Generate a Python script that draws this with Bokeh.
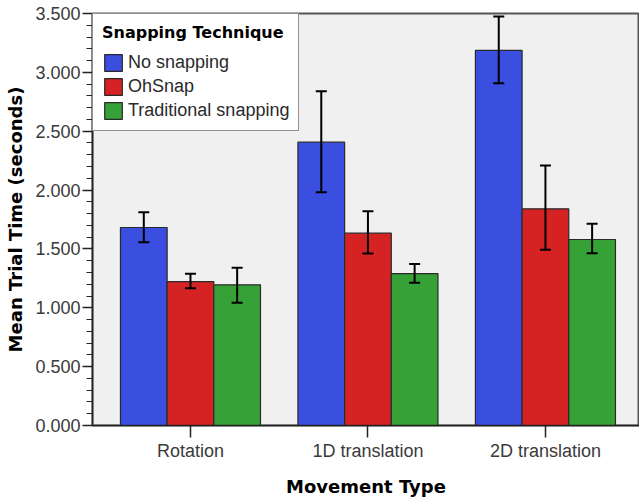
from bokeh.plotting import figure
from bokeh.models import (ColumnDataSource, Whisker, TeeHead, Legend, LegendItem,
                          FixedTicker, NumeralTickFormatter, Range1d)
from bokeh.embed import file_html
from bokeh.resources import INLINE

categories = ["Rotation", "1D translation", "2D translation"]
series_names = ["No snapping", "OhSnap", "Traditional snapping"]
colors = ["#3a4ee0", "#d52323", "#36a136"]

no_snap = [1.682, 2.407, 3.186]
no_snap_lo = [1.557, 1.982, 2.908]
no_snap_hi = [1.812, 2.840, 3.475]

ohsnap = [1.223, 1.634, 1.841]
ohsnap_lo = [1.167, 1.461, 1.492]
ohsnap_hi = [1.289, 1.821, 2.209]

trad = [1.195, 1.291, 1.580]
trad_lo = [1.042, 1.212, 1.464]
trad_hi = [1.340, 1.373, 1.713]

y_major = [0.0, 0.5, 1.0, 1.5, 2.0, 2.5, 3.0, 3.5]

values = [no_snap, ohsnap, trad]
lows = [no_snap_lo, ohsnap_lo, trad_lo]
highs = [no_snap_hi, ohsnap_hi, trad_hi]

bar_w = 0.263
offsets = [-bar_w, 0.0, bar_w]

p = figure(frame_width=547, frame_height=412, output_backend="svg", toolbar_location=None,
           x_range=Range1d(-0.552, 2.53), y_range=Range1d(0, 3.5),
           min_border_left=92, min_border_right=0, min_border_top=13, min_border_bottom=75)
p.background_fill_color = "#f0f0f0"
p.border_fill_color = "white"
p.outline_line_color = "#555555"
p.outline_line_width = 2
p.xgrid.visible = False
p.ygrid.visible = False

renderers = []
for k in range(3):
    xs = [i + offsets[k] for i in range(len(categories))]
    src = ColumnDataSource(dict(x=xs, top=values[k], lo=lows[k], hi=highs[k]))
    r = p.vbar(x="x", top="top", bottom=0, width=bar_w, source=src,
               fill_color=colors[k], line_color="#2a2a2a", line_width=1.2)
    renderers.append(r)
    w = Whisker(base="x", lower="lo", upper="hi", source=src, dimension="height",
                line_color="black", line_width=2, level="annotation",
                upper_head=TeeHead(size=11, line_color="black", line_width=2),
                lower_head=TeeHead(size=11, line_color="black", line_width=2))
    p.add_layout(w)

# axes
p.xaxis.ticker = FixedTicker(ticks=list(range(len(categories))))
p.xaxis.major_label_overrides = {i: c for i, c in enumerate(categories)}
p.xaxis.axis_label = "Movement Type"
p.xaxis.major_tick_out = 12
p.xaxis.major_tick_in = 0
p.xaxis.minor_tick_out = 0
p.xaxis.major_label_standoff = 3
p.xaxis.axis_label_standoff = 12

p.yaxis.ticker = FixedTicker(ticks=y_major,
                             minor_ticks=[i / 10 for i in range(36)])
p.yaxis.formatter = NumeralTickFormatter(format="0.000")
p.yaxis.axis_label = "Mean Trial Time (seconds)"
p.yaxis.major_tick_out = 10
p.yaxis.major_tick_in = 0
p.yaxis.minor_tick_out = 6
p.yaxis.minor_tick_in = 0
p.yaxis.major_label_standoff = 2
p.yaxis.axis_label_standoff = 6

for ax in (p.xaxis, p.yaxis):
    ax.axis_line_color = "#222222"
    ax.axis_line_width = 1.5
    ax.major_tick_line_color = "#222222"
    ax.major_tick_line_width = 1.5
    ax.minor_tick_line_color = "#222222"
    ax.major_label_text_font = "Liberation Sans"
    ax.major_label_text_font_size = "18px"
    ax.major_label_text_color = "#3a3a3a"
    ax.axis_label_text_font = "DejaVu Sans"
    ax.axis_label_text_font_style = "bold"
    ax.axis_label_text_font_size = "18px"
    ax.axis_label_text_color = "black"

legend = Legend(items=[LegendItem(label=series_names[k], renderers=[renderers[k]]) for k in range(3)],
                location="top_left", margin=0, padding=9, spacing=3,
                glyph_width=22, glyph_height=21, label_standoff=4, label_height=20,
                title="Snapping Technique", title_standoff=10)
legend.title_text_font = "DejaVu Sans"
legend.title_text_font_style = "bold"
legend.title_text_font_size = "16px"
legend.title_text_color = "black"
legend.label_text_font = "Liberation Sans"
legend.label_text_font_size = "18px"
legend.label_text_color = "#2a2a2a"
legend.border_line_color = "#222222"
legend.border_line_width = 1
legend.background_fill_color = "white"
legend.background_fill_alpha = 1.0
p.add_layout(legend)

open("out.html", "w").write(file_html(p, INLINE))
